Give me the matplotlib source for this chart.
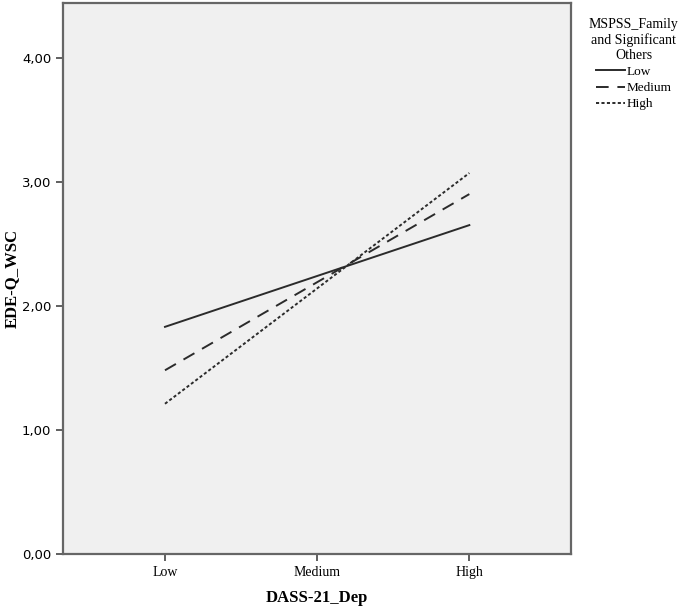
import matplotlib.pyplot as plt

# categories and estimated marginal means
dass_levels = ['Low', 'Medium', 'High']
low_mspss = [1.83, 2.24, 2.65]
medium_mspss = [1.48, 2.19, 2.90]
high_mspss = [1.21, 2.14, 3.07]
y_ticks = [0, 1, 2, 3, 4]
y_ticklabels = ['0,00', '1,00', '2,00', '3,00', '4,00']

serif = ['Liberation Serif', 'DejaVu Serif']

fig = plt.figure(figsize=(6.85, 6.1), dpi=100)
ax = fig.add_axes([0.092, 0.092, 0.742, 0.903])
ax.set_facecolor('#f0f0f0')

x = list(range(len(dass_levels)))
ax.plot(x, low_mspss, color='#2b2b2b', lw=1.4, linestyle='-', label='Low')
ax.plot(x, medium_mspss, color='#2b2b2b', lw=1.4, linestyle=(0, (6.5, 4.5)), label='Medium')
ax.plot(x, high_mspss, color='#2b2b2b', lw=1.4, linestyle=(0, (1.6, 1.2)), label='High')

ax.set_xlim(-0.67, 2.67)
ax.set_ylim(0, 4.44)
ax.set_xticks(x)
ax.set_xticklabels(dass_levels, family=serif, fontsize=10)
ax.set_yticks(y_ticks)
ax.set_yticklabels(y_ticklabels, fontsize=9.5)
ax.tick_params(direction='out', length=5, width=1.2, color='#444444')

for s in ax.spines.values():
    s.set_color('#666666')
    s.set_linewidth(1.6)

ax.set_xlabel('DASS-21_Dep', family=serif, fontsize=12, fontweight='bold', labelpad=8)
ax.set_ylabel('EDE-Q_WSC', family=serif, fontsize=12, fontweight='bold')
ax.yaxis.set_label_coords(-0.085, 0.5)

leg = fig.legend(loc='upper left', bbox_to_anchor=(0.842, 0.99), frameon=False,
                 title='MSPSS_Family\nand Significant\nOthers',
                 prop={'family': serif, 'size': 9.5}, handlelength=2.2,
                 handletextpad=0.1, labelspacing=0.3, alignment='center')
leg.get_title().set_family(serif)
leg.get_title().set_fontsize(10)
leg.get_title().set_ha('center')

fig.savefig('out.png', dpi=100)
